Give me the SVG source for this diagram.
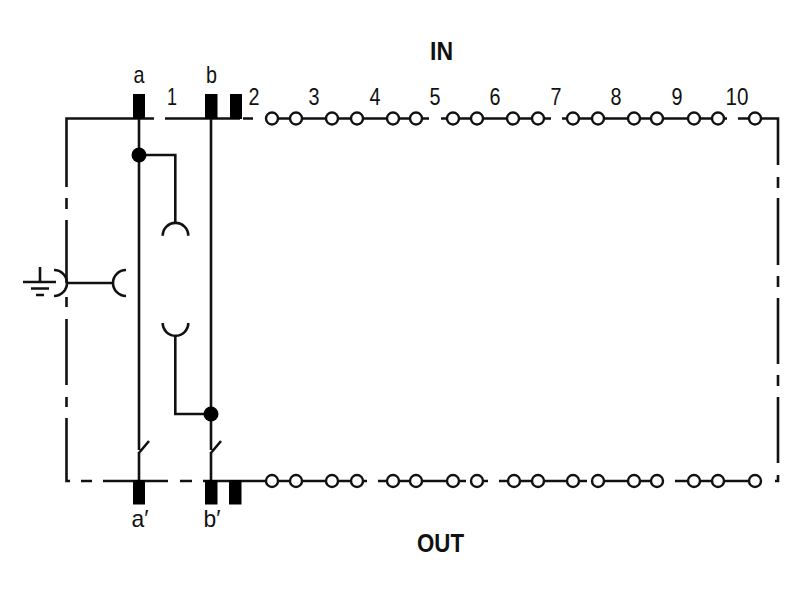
<svg xmlns="http://www.w3.org/2000/svg" width="800" height="600" viewBox="0 0 800 600">
<style>
.w{fill:none;stroke:#111;stroke-width:2.6}
.c{fill:#fff;stroke:#111;stroke-width:2.4}
.p{fill:#000}
.d{fill:#000}
text{font-family:"Liberation Sans",Arial,sans-serif;font-size:24px;fill:#111;text-anchor:middle}
.b{font-weight:bold;font-size:25px}
</style>
<rect width="800" height="600" fill="#fff"/>
<g id="connectors" class="w">
<path d="M154 118.5H66.5V187M66.5 198V209M66.5 220V283M66.5 297V307M66.5 319V385M66.5 397V407M66.5 418V481H70M81 481H92M103 481H168M180 481H192M203 481H267"/>
<path d="M165 118.5H240M243 118.5H253M266 118.5H429M441 118.5H551M562 118.5H727M738 118.5H778V165M778 177V188M778 198V265M778 276V287M778 298V364M778 375V386M778 397V463M778 475V481H775"/>
<path d="M267 481H367M378 481H466M471 481H488M499 481H587M592 481H663M675 481H755"/>
<path d="M139 118.5V450M139 452V481M138.500 453.500L149 441"/>
<path d="M211 118.500V450M211 452V481M210.500 453.500L221 441"/>
<path d="M139 155H175.300V223"/>
<path d="M175.300 335.700V414H211"/>
<path d="M66.500 283H113"/>
</g>
<g id="contact-upper"><path class="w" d="M162.700 235.700A12.800 12.800 0 0 1 188.300 235.700"/></g>
<g id="contact-lower"><path class="w" d="M162.700 323A12.800 12.800 0 0 0 188.300 323"/></g>
<g id="contact-left"><path class="w" d="M54 270A13 13 0 0 1 54 296"/></g>
<g id="contact-right"><path class="w" d="M126 270A13 13 0 0 0 126 296"/></g>
<g id="ground"><path class="w" d="M40 267V282M23 282H56M31 288.500H49M36 295H44"/></g>
<g id="junction-a"><circle class="d" cx="139" cy="155" r="7.500"/></g>
<g id="junction-b"><circle class="d" cx="211" cy="414" r="7.500"/></g>
<g id="pins-in"><rect class="p" x="133" y="94" width="12" height="25"/><rect class="p" x="205" y="94" width="12.500" height="25"/><rect class="p" x="230" y="94" width="12" height="25"/></g>
<g id="pins-out"><rect class="p" x="133" y="480" width="12" height="24.500"/><rect class="p" x="205" y="480" width="12.500" height="24.500"/><rect class="p" x="229" y="480" width="12.500" height="24.500"/></g>
<g id="terminals-in">
<circle class="c" cx="272" cy="118.500" r="6"/><circle class="c" cx="296" cy="118.500" r="6"/><circle class="c" cx="332" cy="118.500" r="6"/><circle class="c" cx="357" cy="118.500" r="6"/><circle class="c" cx="393" cy="118.500" r="6"/><circle class="c" cx="416" cy="118.500" r="6"/><circle class="c" cx="453" cy="118.500" r="6"/><circle class="c" cx="477" cy="118.500" r="6"/><circle class="c" cx="513" cy="118.500" r="6"/><circle class="c" cx="538" cy="118.500" r="6"/><circle class="c" cx="573" cy="118.500" r="6"/><circle class="c" cx="598" cy="118.500" r="6"/><circle class="c" cx="634" cy="118.500" r="6"/><circle class="c" cx="657" cy="118.500" r="6"/><circle class="c" cx="694" cy="118.500" r="6"/><circle class="c" cx="718" cy="118.500" r="6"/><circle class="c" cx="755" cy="118.500" r="6"/>
</g>
<g id="terminals-out">
<circle class="c" cx="272" cy="481" r="6"/><circle class="c" cx="296" cy="481" r="6"/><circle class="c" cx="332" cy="481" r="6"/><circle class="c" cx="357" cy="481" r="6"/><circle class="c" cx="393" cy="481" r="6"/><circle class="c" cx="416" cy="481" r="6"/><circle class="c" cx="453" cy="481" r="6"/><circle class="c" cx="477" cy="481" r="6"/><circle class="c" cx="514" cy="481" r="6"/><circle class="c" cx="538" cy="481" r="6"/><circle class="c" cx="573" cy="481" r="6"/><circle class="c" cx="598" cy="481" r="6"/><circle class="c" cx="634" cy="481" r="6"/><circle class="c" cx="657" cy="481" r="6"/><circle class="c" cx="694" cy="481" r="6"/><circle class="c" cx="718" cy="481" r="6"/><circle class="c" cx="755" cy="481" r="6"/>
</g>
<g id="labels">
<text x="139" y="83" textLength="11" lengthAdjust="spacingAndGlyphs">a</text>
<text x="211.500" y="83" textLength="11" lengthAdjust="spacingAndGlyphs">b</text>
<text x="172" y="105" textLength="10" lengthAdjust="spacingAndGlyphs">1</text>
<text x="254" y="105" textLength="11" lengthAdjust="spacingAndGlyphs">2</text>
<text x="314" y="105" textLength="11" lengthAdjust="spacingAndGlyphs">3</text>
<text x="375" y="105" textLength="11" lengthAdjust="spacingAndGlyphs">4</text>
<text x="435" y="105" textLength="11" lengthAdjust="spacingAndGlyphs">5</text>
<text x="495" y="105" textLength="11" lengthAdjust="spacingAndGlyphs">6</text>
<text x="556" y="105" textLength="11" lengthAdjust="spacingAndGlyphs">7</text>
<text x="616" y="105" textLength="11" lengthAdjust="spacingAndGlyphs">8</text>
<text x="677" y="105" textLength="11" lengthAdjust="spacingAndGlyphs">9</text>
<text x="737" y="105" textLength="23" lengthAdjust="spacingAndGlyphs">10</text>
<text x="140" y="527" textLength="17" lengthAdjust="spacingAndGlyphs">a′</text>
<text x="212" y="527" textLength="17" lengthAdjust="spacingAndGlyphs">b′</text>
<text class="b" x="441.500" y="60" textLength="23" lengthAdjust="spacingAndGlyphs">IN</text>
<text class="b" x="440.500" y="552" textLength="47" lengthAdjust="spacingAndGlyphs">OUT</text>
</g>
</svg>
